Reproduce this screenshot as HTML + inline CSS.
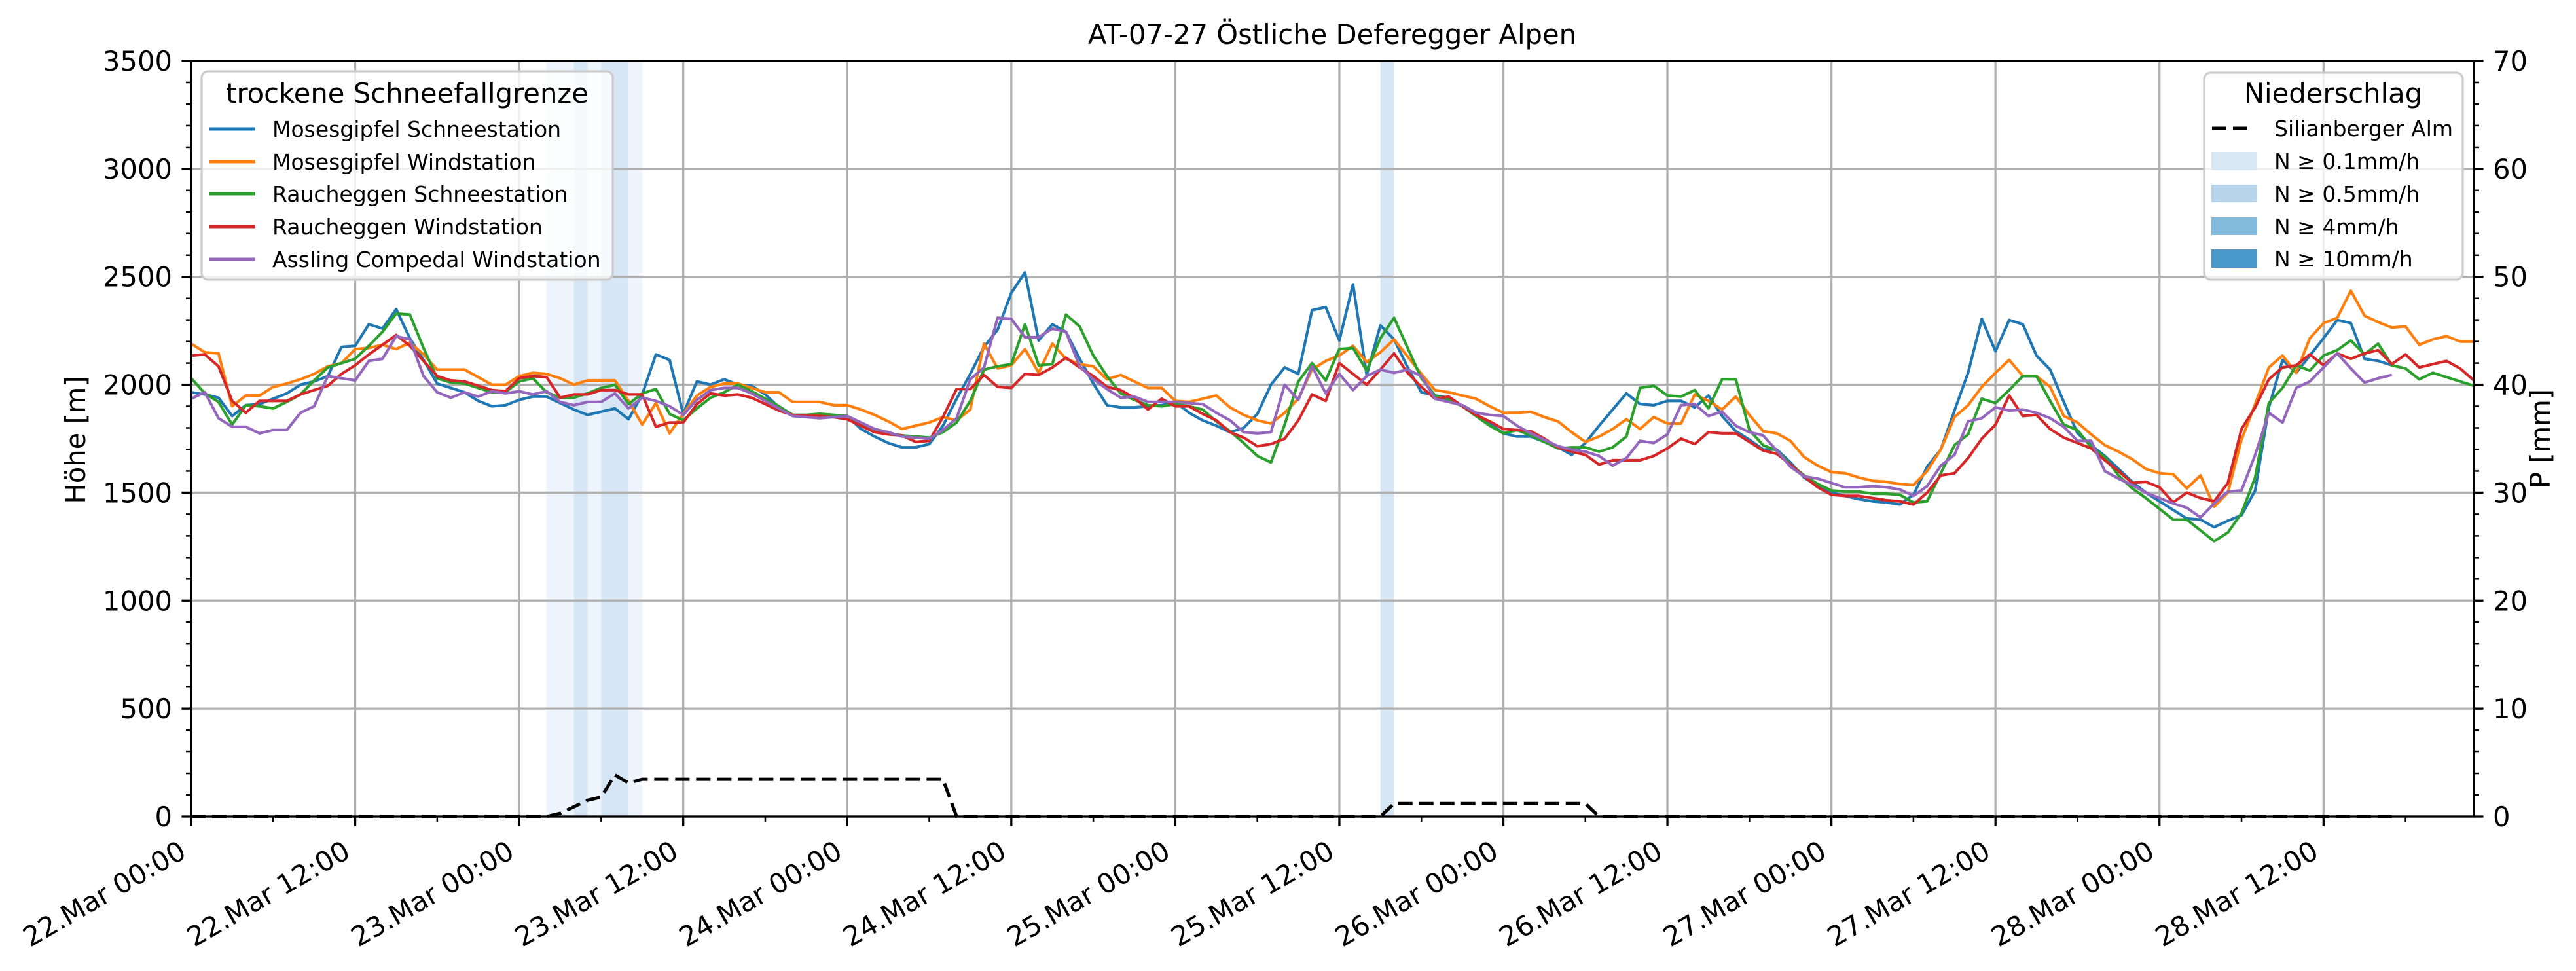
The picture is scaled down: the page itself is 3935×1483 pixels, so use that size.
<!DOCTYPE html>
<html><head><meta charset="utf-8"><style>
html,body{margin:0;padding:0;background:#fff;}
svg{display:block;font-family:"DejaVu Sans","Liberation Sans",sans-serif;}
</style></head><body>
<svg id="chart" xmlns="http://www.w3.org/2000/svg" width="3935" height="1483" viewBox="0 0 3935 1483">
<rect x="0" y="0" width="3935" height="1483" fill="#fff"/>
<g id="spans"></g><g id="grid"></g><g id="series"></g><g id="precip"></g><g id="axes"></g>
<text x="2035" y="67" font-size="41.7" text-anchor="middle">AT-07-27 Östliche Deferegger Alpen</text>
<text transform="translate(130,672) rotate(-90)" font-size="41.7" text-anchor="middle">Höhe [m]</text>
<text transform="translate(3895,670) rotate(-90)" font-size="41.7" text-anchor="middle">P [mm]</text>
<g>
<rect x="308" y="109" width="628" height="318" rx="10" fill="#fff" fill-opacity="0.8" stroke="#cccccc" stroke-width="3.3"/>
<text x="622" y="157" font-size="41.7" text-anchor="middle">trockene Schneefallgrenze</text>
<g><line x1="320" y1="197" x2="390" y2="197" stroke="#1f77b4" stroke-width="5"/><text x="416" y="209" font-size="33">Mosesgipfel Schneestation</text></g>
<g><line x1="320" y1="247" x2="390" y2="247" stroke="#ff7f0e" stroke-width="5"/><text x="416" y="259" font-size="33">Mosesgipfel Windstation</text></g>
<g><line x1="320" y1="296" x2="390" y2="296" stroke="#2ca02c" stroke-width="5"/><text x="416" y="308" font-size="33">Raucheggen Schneestation</text></g>
<g><line x1="320" y1="346" x2="390" y2="346" stroke="#d62728" stroke-width="5"/><text x="416" y="358" font-size="33">Raucheggen Windstation</text></g>
<g><line x1="320" y1="396" x2="390" y2="396" stroke="#9467bd" stroke-width="5"/><text x="416" y="408" font-size="33">Assling Compedal Windstation</text></g>
</g>
<g>
<rect x="3367" y="111" width="395" height="316" rx="10" fill="#fff" fill-opacity="0.8" stroke="#cccccc" stroke-width="3.3"/>
<text x="3564" y="157" font-size="41.7" text-anchor="middle">Niederschlag</text>
<g><line x1="3379" y1="196" x2="3437" y2="196" stroke="#000" stroke-width="5" stroke-dasharray="22,10"/><text x="3474" y="208" font-size="33">Silianberger Alm</text></g>
<g><rect x="3378" y="232" width="70" height="28" fill="#d8e7f4"/><text x="3474" y="258" font-size="33">N ≥ 0.1mm/h</text></g>
<g><rect x="3378" y="282" width="70" height="27" fill="#b7d4ea"/><text x="3474" y="308" font-size="33">N ≥ 0.5mm/h</text></g>
<g><rect x="3378" y="332" width="70" height="27" fill="#82badb"/><text x="3474" y="358" font-size="33">N ≥ 4mm/h</text></g>
<g><rect x="3378" y="381" width="70" height="28" fill="#4a98c9"/><text x="3474" y="407" font-size="33">N ≥ 10mm/h</text></g>
</g>
</svg>
<script>
const xTickLabels = ["22.Mar 00:00","22.Mar 12:00","23.Mar 00:00","23.Mar 12:00","24.Mar 00:00","24.Mar 12:00","25.Mar 00:00","25.Mar 12:00","26.Mar 00:00","26.Mar 12:00","27.Mar 00:00","27.Mar 12:00","28.Mar 00:00","28.Mar 12:00"];
const yTicksLeft = [0,500,1000,1500,2000,2500,3000,3500];
const yTicksRight = [0,10,20,30,40,50,60,70];
const spanStart = [26,28,29,30,32,87];
const spanEnd = [28,29,30,32,33,88];
const spanLevel = [0,1,0,1,0,1];
const precipHours = [0,26,27,28,29,30,31,32,33,55,56,87,88,102,103,161];
const precipValues = [0,0,0.3,0.9,1.5,1.8,3.85,3.1,3.45,3.45,0,0,1.2,1.2,0,0];
const seriesNames = ["Mosesgipfel Schneestation","Mosesgipfel Windstation","Raucheggen Schneestation","Raucheggen Windstation","Assling Compedal Windstation"];
const mosesSchnee = [1965,1955,1940,1855,1905,1910,1935,1960,2000,2015,2040,2175,2180,2280,2260,2350,2215,2115,2005,1985,1965,1925,1900,1905,1930,1945,1945,1915,1885,1860,1875,1890,1840,1955,2140,2115,1865,2015,2000,2025,2000,1995,1955,1895,1860,1855,1855,1850,1855,1795,1760,1730,1710,1710,1725,1810,
1935,2050,2175,2255,2425,2520,2205,2280,2245,2120,2005,1905,1895,1895,1900,1905,1920,1870,1835,1810,1780,1800,1865,2000,2080,2050,2345,2360,2205,2465,2045,2275,2210,2080,1965,1950,1940,1900,1865,1820,1775,1760,1760,1735,1710,1675,1730,1810,1885,1960,1910,1905,1925,1925,1895,1950,
1855,1785,1745,1700,1700,1640,1570,1530,1500,1485,1470,1460,1455,1445,1490,1620,1700,1880,2055,2305,2155,2300,2280,2135,2070,1920,1775,1720,1670,1610,1550,1500,1460,1420,1380,1375,1340,1370,1395,1510,1895,2115,2055,2135,2215,2300,2285,2120,2110,2090];
const mosesWind = [2190,2150,2145,1900,1950,1950,1990,2005,2025,2050,2085,2100,2165,2170,2185,2165,2195,2140,2070,2070,2070,2035,2000,2000,2040,2055,2050,2030,2000,2020,2020,2020,1925,1815,1915,1775,1865,1950,1990,2005,2005,1985,1965,1965,1920,1920,1920,1905,1905,1885,1860,1830,1795,1810,1825,1850,
1835,1885,2190,2075,2090,2165,2055,2190,2120,2095,2085,2025,2045,2015,1985,1985,1925,1920,1935,1950,1895,1860,1835,1820,1870,1935,2070,2110,2135,2180,2105,2150,2210,2130,2050,1975,1965,1950,1935,1900,1870,1870,1875,1850,1830,1780,1735,1760,1795,1840,1795,1850,1820,1820,1955,1925,
1885,1945,1860,1785,1775,1740,1665,1625,1595,1590,1570,1555,1550,1540,1535,1600,1700,1850,1905,1990,2055,2115,2040,2040,1990,1855,1825,1770,1720,1690,1655,1610,1590,1585,1520,1580,1435,1500,1745,1910,2080,2135,2055,2215,2285,2310,2435,2320,2290,2265,2270,2185,2210,2225,2200,2200];
const raucheggenSchnee = [2030,1960,1920,1815,1905,1900,1890,1920,1955,2020,2080,2100,2120,2180,2245,2330,2325,2170,2030,2010,2005,1985,1965,1965,2015,2030,1965,1940,1940,1960,1985,2000,1910,1960,1980,1865,1835,1890,1940,1965,2000,1970,1935,1900,1860,1860,1865,1860,1855,1820,1785,1775,1765,1760,1755,1780,
1825,1925,2070,2085,2095,2280,2090,2095,2325,2270,2135,2040,1960,1930,1905,1900,1910,1900,1885,1830,1785,1730,1670,1640,1815,2015,2100,2020,2165,2170,2065,2215,2310,2170,2030,1950,1930,1900,1855,1810,1775,1790,1765,1735,1705,1710,1710,1690,1710,1760,1985,1995,1950,1945,1975,1890,
2025,2025,1790,1720,1695,1630,1580,1540,1510,1505,1505,1495,1495,1490,1455,1460,1590,1720,1770,1935,1915,1975,2040,2040,1925,1815,1790,1710,1665,1580,1520,1475,1425,1375,1375,1325,1275,1315,1405,1570,1915,1985,2090,2065,2135,2160,2205,2140,2190,2090,2075,2025,2055,2035,2015,1995];
const raucheggenWind = [2135,2140,2085,1925,1870,1925,1925,1925,1955,1975,1995,2050,2090,2140,2185,2230,2180,2110,2040,2020,2015,1995,1975,1970,2030,2040,2035,1940,1955,1955,1975,1975,1955,1955,1805,1825,1825,1910,1960,1950,1955,1940,1910,1880,1860,1855,1855,1850,1840,1810,1780,1770,1765,1735,1740,1850,
1980,1980,2045,1990,1985,2050,2045,2080,2125,2080,2040,1990,1975,1940,1885,1935,1900,1900,1865,1835,1780,1755,1715,1725,1750,1835,1955,1925,2100,2050,2000,2070,2145,2055,1990,1935,1945,1900,1860,1830,1795,1790,1785,1750,1710,1690,1675,1630,1650,1650,1650,1670,1705,1750,1725,1780,
1775,1775,1735,1695,1680,1630,1575,1525,1490,1485,1485,1475,1465,1460,1445,1500,1580,1590,1660,1750,1815,1950,1855,1860,1795,1755,1730,1705,1650,1600,1545,1550,1525,1455,1500,1475,1460,1545,1795,1895,2025,2080,2090,2140,2090,2145,2120,2145,2160,2095,2140,2080,2095,2110,2075,2020];
const asslingWind = [1935,1965,1845,1805,1805,1775,1790,1790,1870,1900,2040,2030,2020,2110,2120,2225,2210,2040,1965,1940,1965,1945,1970,1960,1970,1955,1970,1920,1905,1920,1920,1960,1890,1940,1925,1900,1860,1930,1975,1985,1985,1960,1925,1890,1855,1850,1845,1850,1855,1825,1795,1780,1760,1755,1750,1790,
1845,2025,2080,2310,2305,2220,2220,2260,2245,2085,2025,1980,1940,1945,1920,1920,1920,1915,1910,1870,1835,1780,1775,1780,2000,1930,2085,1960,2050,1975,2040,2070,2055,2070,2040,1935,1920,1905,1870,1860,1855,1810,1775,1745,1715,1700,1690,1670,1625,1660,1740,1730,1770,1905,1910,1855,
1875,1810,1780,1765,1695,1620,1575,1565,1545,1525,1525,1530,1525,1515,1485,1530,1625,1675,1830,1845,1895,1880,1885,1870,1845,1805,1740,1740,1600,1565,1535,1500,1475,1450,1430,1385,1450,1505,1510,1675,1870,1825,1985,2015,2080,2145,2075,2010,2030,2045];

const NS="http://www.w3.org/2000/svg";
const X0=292,X1=3779,Y0=93,Y1=1247,HMAX=167;
function xScale(h){return X0+(X1-X0)*h/HMAX;}
function yLeft(v){return Y1-(Y1-Y0)*v/3500;}
function yRight(v){return Y1-(Y1-Y0)*v/70;}
function mk(tag,attrs,parent){const e=document.createElementNS(NS,tag);for(const k in attrs)e.setAttribute(k,attrs[k]);parent.appendChild(e);return e;}

const gSpans=document.getElementById('spans');
const spanColors=["#eef4fb","#d6e6f4"];
for(let i=0;i<spanStart.length;i++){
  const r=mk('rect',{x:xScale(spanStart[i]),y:Y0,width:xScale(spanEnd[i])-xScale(spanStart[i]),height:Y1-Y0,fill:spanColors[spanLevel[i]]},gSpans);
  
  
}
const gGrid=document.getElementById('grid');
for(let i=0;i<xTickLabels.length;i++){
  const x=xScale(i*12);
  const l=mk('line',{x1:x,y1:Y0,x2:x,y2:Y1,stroke:"#b0b0b0","stroke-width":3.3},gGrid);
  
  
}
for(const v of yTicksLeft){
  const y=yLeft(v);
  const l=mk('line',{x1:X0,y1:y,x2:X1,y2:y,stroke:"#b0b0b0","stroke-width":3.3},gGrid);
  
  
}
const gSeries=document.getElementById('series');
const allSeries=[mosesSchnee,mosesWind,raucheggenSchnee,raucheggenWind,asslingWind];
const colors=["#1f77b4","#ff7f0e","#2ca02c","#d62728","#9467bd"];
const sNames=["series-mosesgipfel-schnee","series-mosesgipfel-wind","series-raucheggen-schnee","series-raucheggen-wind","series-assling-wind"];
for(let s=0;s<allSeries.length;s++){
  const d=allSeries[s].map((v,h)=>(h?'L':'M')+xScale(h).toFixed(1)+','+yLeft(v).toFixed(1)).join('');
  const p=mk('path',{d:d,fill:"none",stroke:colors[s],"stroke-width":4.2,"stroke-linejoin":"round"},gSeries);
  
  
}
const gP=document.getElementById('precip');
const pd=precipHours.map((h,i)=>(i?'L':'M')+xScale(h).toFixed(1)+','+yRight(precipValues[i]).toFixed(1)).join('');
const pp=mk('path',{d:pd,fill:"none",stroke:"#000","stroke-width":5,"stroke-dasharray":"22,10"},gP);



const gA=document.getElementById('axes');
for(let v=0;v<=3500;v+=100){ if(v%500){const y=yLeft(v);const t=mk('line',{x1:X0-8,y1:y,x2:X0,y2:y,stroke:"#000","stroke-width":2.5},gA);}}
for(let v=0;v<=70;v+=2){ if(v%10){const y=yRight(v);const t=mk('line',{x1:X1,y1:y,x2:X1+8,y2:y,stroke:"#000","stroke-width":2.5},gA);}}
for(let h=6;h<=HMAX;h+=12){const x=xScale(h);const t=mk('line',{x1:x,y1:Y1,x2:x,y2:Y1+8,stroke:"#000","stroke-width":2.5},gA);}
for(const v of yTicksLeft){
  const y=yLeft(v);
  const t=mk('line',{x1:X0-14.6,y1:y,x2:X0,y2:y,stroke:"#000","stroke-width":3.3},gA);
  
  
  const tx=mk('text',{x:X0-29,y:y+15,"font-size":41.7,"text-anchor":"end"},gA);
  tx.textContent=String(v);
  
  
}
for(const v of yTicksRight){
  const y=yRight(v);
  const t=mk('line',{x1:X1,y1:y,x2:X1+14.6,y2:y,stroke:"#000","stroke-width":3.3},gA);
  
  
  const tx=mk('text',{x:X1+29,y:y+15,"font-size":41.7,"text-anchor":"start"},gA);
  tx.textContent=String(v);
  
  
}
for(let i=0;i<xTickLabels.length;i++){
  const x=xScale(i*12);
  const t=mk('line',{x1:x,y1:Y1,x2:x,y2:Y1+14.6,stroke:"#000","stroke-width":3.3},gA);
  
  
  const ax=x-5, ay=1308;
  const tx=mk('text',{x:ax,y:ay,"font-size":41.7,"text-anchor":"end",transform:`rotate(-30 ${ax} ${ay})`},gA);
  tx.textContent=xTickLabels[i];
  
  
}
const frame=mk('rect',{x:X0,y:Y0,width:X1-X0,height:Y1-Y0,fill:"none",stroke:"#000","stroke-width":3.3},gA);


</script>
</body></html>
